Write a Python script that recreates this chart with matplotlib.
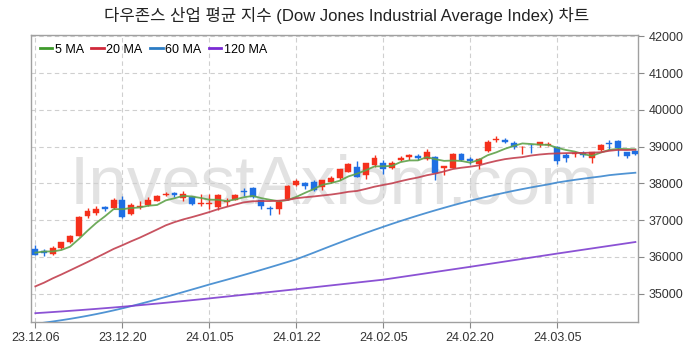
import numpy as np
import matplotlib
matplotlib.use("Agg")
import matplotlib.pyplot as plt
from matplotlib import font_manager

# ---------------- data ----------------
tick_labels = ["23.12.06", "23.12.20", "24.01.05", "24.01.22", "24.02.05", "24.02.20", "24.03.05"]
tick_index = [0, 10, 20, 30, 40, 50, 60]

opens = [36230, 36150, 36080, 36250, 36420, 36580, 37120, 37200, 37360, 37330,
         37560, 37170, 37370, 37420, 37530, 37680, 37730, 37600, 37640, 37440,
         37440, 37360, 37500, 37560, 37800, 37870, 37540, 37345, 37315, 37590,
         37955, 38000, 38037, 37900, 38037, 38140, 38310, 38458, 38220, 38495,
         38570, 38432, 38640, 38715, 38760, 38660, 38733, 38410, 38432, 38797,
         38660, 38523, 38870, 39170, 39190, 39100, 38980, 39060, 39045, 39060,
         38980, 38770, 38800, 38820, 38705, 38915, 39110, 39160, 38843, 38890]
highs = [36330, 36210, 36290, 36410, 36590, 37110, 37340, 37380, 37390, 37600,
         37650, 37460, 37530, 37620, 37690, 37780, 37770, 37790, 37650, 37700,
         37700, 37720, 37600, 37720, 37870, 37900, 37550, 37400, 37540, 37960,
         38110, 38050, 38090, 38100, 38200, 38400, 38560, 38600, 38560, 38780,
         38640, 38600, 38740, 38800, 38790, 38930, 38760, 38475, 38830, 38830,
         38720, 38680, 39190, 39280, 39250, 39150, 39010, 39080, 39140, 39130,
         39010, 38830, 38880, 38870, 38850, 39070, 39180, 39170, 38860, 38920]
lows = [36040, 36030, 36040, 36230, 36390, 36570, 37070, 37130, 37260, 37310,
        37070, 37140, 37300, 37400, 37510, 37660, 37630, 37530, 37420, 37400,
        37300, 37270, 37400, 37550, 37670, 37600, 37300, 37150, 37180, 37560,
        37930, 37860, 37800, 37820, 38000, 38100, 38300, 38170, 38120, 38440,
        38260, 38400, 38600, 38650, 38640, 38640, 38083, 38230, 38420, 38600,
        38540, 38400, 38860, 39120, 39100, 38950, 38810, 38840, 38990, 39010,
        38540, 38580, 38730, 38720, 38570, 38880, 38950, 38750, 38680, 38770]
closes = [36054, 36117, 36248, 36405, 36577, 37090, 37248, 37306, 37306, 37557,
          37082, 37404, 37385, 37545, 37656, 37710, 37690, 37715, 37450, 37470,
          37466, 37683, 37525, 37696, 37760, 37640, 37380, 37300, 37500, 37925,
          38065, 37925, 37817, 38084, 38157, 38385, 38520, 38184, 38550, 38680,
          38404, 38570, 38705, 38770, 38690, 38843, 38295, 38475, 38815, 38632,
          38612, 38660, 39118, 39210, 39118, 39000, 39000, 39040, 39118, 39085,
          38613, 38705, 38823, 38770, 38843, 39052, 39085, 38953, 38750, 38800]

# closes before the first visible day (needed for the 5 / 20 day averages)
prior_closes = [34112, 33892, 34283, 34337, 34828, 34991, 34945, 34947, 35151, 35088,
                35273, 35390, 35334, 35417, 35430, 35951, 36246, 36204, 36125]

ma60 = [34180, 34211, 34244, 34279, 34316, 34356, 34399, 34445, 34494, 34546,
        34601, 34660, 34721, 34783, 34847, 34912, 34978, 35045, 35113, 35181,
        35250, 35315, 35380, 35446, 35513, 35581, 35650, 35720, 35791, 35863,
        35936, 36025, 36115, 36208, 36300, 36390, 36480, 36568, 36654, 36738,
        36820, 36900, 36978, 37054, 37128, 37200, 37270, 37338, 37404, 37468,
        37530, 37588, 37644, 37698, 37750, 37800, 37847, 37892, 37935, 37976,
        38025, 38062, 38097, 38130, 38161, 38190, 38226, 38250, 38272, 38292]
ma120 = [34470, 34485, 34501, 34517, 34534, 34551, 34569, 34587, 34606, 34625,
         34645, 34666, 34687, 34709, 34731, 34754, 34777, 34800, 34824, 34848,
         34872, 34897, 34922, 34947, 34972, 34997, 35022, 35047, 35072, 35097,
         35122, 35148, 35174, 35200, 35226, 35252, 35278, 35304, 35330, 35356,
         35382, 35417, 35452, 35487, 35522, 35557, 35592, 35627, 35662, 35697,
         35732, 35768, 35804, 35840, 35876, 35912, 35948, 35984, 36020, 36056,
         36092, 36127, 36162, 36197, 36232, 36267, 36302, 36337, 36372, 36407]

title = "다우존스 산업 평균 지수 (Dow Jones Industrial Average Index) 차트"
watermark = "InvestAxiom.com"

# ---------------- fonts ----------------
avail = {f.name for f in font_manager.fontManager.ttflist}
latin = "Liberation Sans" if "Liberation Sans" in avail else "DejaVu Sans"
narrow = "Liberation Sans Narrow" if "Liberation Sans Narrow" in avail else None
plt.rcParams["font.family"] = [latin, "Noto Sans CJK KR", "DejaVu Sans"]

# ---------------- derived averages ----------------
allc = np.array(prior_closes + closes, dtype=float)
n = len(closes)
off = len(prior_closes)
ma5 = [allc[off + i - 4: off + i + 1].mean() for i in range(n)]
ma20 = [allc[off + i - 19: off + i + 1].mean() for i in range(n)]

# ---------------- figure ----------------
fig = plt.figure(figsize=(6.93, 3.53), dpi=100)
ax = fig.add_axes([31 / 693, 1 - 322 / 353, (638 - 31) / 693, (322 - 35) / 353])

x = np.arange(n)
o = np.array(opens, float); c = np.array(closes, float)
h = np.array(highs, float); l = np.array(lows, float)
up = c >= o
red = "#f5301c"
blue = "#1f6fe3"
cols = np.where(up, red, blue)

if narrow:
    ax.text(0.5, (322 - 203) / 287, watermark, transform=ax.transAxes, ha="center",
            va="baseline", fontsize=60, color="#e2e2e2", zorder=0.5, family=narrow)
else:
    ax.text(0.5, (322 - 203) / 287, watermark, transform=ax.transAxes, ha="center",
            va="baseline", fontsize=50, color="#e2e2e2", zorder=0.5, family=latin)

ax.vlines(x, l, h, colors=cols, linewidth=1.0, zorder=2)
body_bottom = np.minimum(o, c)
body_h = np.maximum(np.abs(c - o), 12)
ax.bar(x, body_h, bottom=body_bottom, width=0.68, color=cols, edgecolor=cols,
       linewidth=0.3, zorder=3)

ax.plot(x, ma5, color="#5fa24a", lw=1.3, alpha=0.9, zorder=4, label="5 MA")
ax.plot(x, ma20, color="#c2404f", lw=1.3, alpha=0.9, zorder=4, label="20 MA")
ax.plot(x, ma60, color="#3d88cf", lw=1.3, alpha=0.9, zorder=4, label="60 MA")
ax.plot(x, ma120, color="#7f3fd0", lw=1.3, alpha=0.9, zorder=4, label="120 MA")

ax.set_xlim(-0.5, 69.3)
ax.set_ylim(34230, 42040)
ax.set_xticks(tick_index)
ax.set_xticklabels(tick_labels)
ax.set_yticks([35000, 36000, 37000, 38000, 39000, 40000, 41000, 42000])
ax.yaxis.tick_right()
ax.tick_params(axis="both", labelsize=9, colors="#333333", length=4, width=0.8)
ax.tick_params(axis="both", color="#888888")
ax.grid(True, color="#cfcfcf", linestyle=(0, (4, 3)), linewidth=0.8, zorder=0)
ax.set_axisbelow(True)
for s in ax.spines.values():
    s.set_color("#a0a0a0")
    s.set_linewidth(1.0)

leg = ax.legend(loc="upper left", ncol=4, frameon=False, fontsize=9,
                handlelength=1.0, handletextpad=0.2, columnspacing=0.6,
                borderaxespad=0.3, bbox_to_anchor=(0.0, 1.0))
for line, colr in zip(leg.get_lines(), ["#3f9a2c", "#d0283a", "#2b7cc4", "#7a2ad4"]):
    line.set_color(colr)
    line.set_alpha(1)
    line.set_linewidth(2)

fig.text(0.5, 1 - 16 / 353, title, ha="center", va="center", fontsize=12, color="#222222")

fig.savefig("out.png", dpi=100)
